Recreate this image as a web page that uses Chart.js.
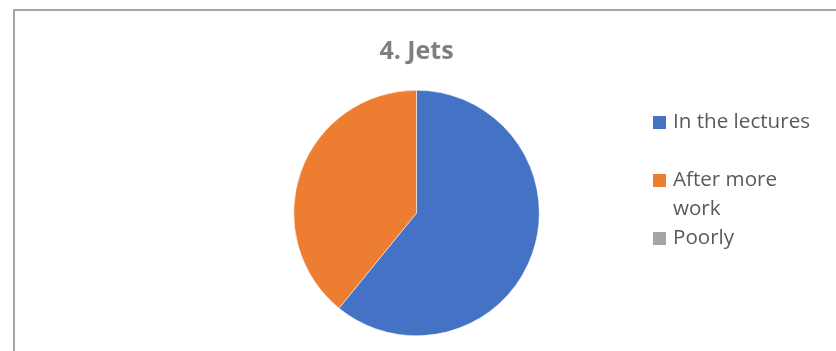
<!DOCTYPE html>
<html>
<head>
<meta charset="utf-8">
<script src="https://cdn.jsdelivr.net/npm/chart.js@4"></script>
<style>
  html, body { margin: 0; padding: 0; background: #fff; }
  #wrap { position: relative; width: 836px; height: 351px; }
  #frame {
    position: absolute; left: 13px; top: 9px; right: -2px; bottom: -2px;
    border-top: 2px solid #a6a6a6; border-left: 2px solid #a6a6a6;
    pointer-events: none;
  }
</style>
</head>
<body>
<div id="wrap">
  <canvas id="pieChart" width="836" height="351"></canvas>
  <div id="frame"></div>
</div>
<script>
// タイトル
const title = '4. Jets';
// カテゴリ（凡例は複数行あり）
const labels = [['In the lectures'], ['After more', 'work'], ['Poorly']];
// 回答数
const values = [14, 9, 0];
// 色
const colors = ['#4472C4', '#ED7D31', '#A5A5A5'];

// 右側の凡例を描く（ラベルの折り返しのため自前で）
const sideLegend = {
    id: 'sideLegend',
    afterDraw(chart) {
        const ctx = chart.ctx;
        const ds = chart.data.datasets[0];
        const boxX = 653, textX = 673, lineH = 29;
        const rows = [122, 180, 238];
        ctx.save();
        ctx.font = '20.6px "Open Sans", "Noto Sans", sans-serif';
        ctx.textBaseline = 'middle';
        chart.data.labels.forEach((lab, i) => {
            const y = rows[i];
            ctx.fillStyle = ds.backgroundColor[i];
            ctx.fillRect(boxX, y - 6, 13, 13);
            ctx.fillStyle = '#595959';
            lab.forEach((t, j) => ctx.fillText(t, textX, y + j * lineH));
        });
        ctx.restore();
    }
};

const ctx = document.getElementById('pieChart').getContext('2d');
new Chart(ctx, {
    type: 'pie',
    data: {
        labels: labels,
        datasets: [{
            data: values,
            backgroundColor: colors,
            borderColor: '#ffffff',
            borderWidth: 0.5
        }]
    },
    options: {
        responsive: false,
        animation: false,
        layout: {
            padding: { left: 293, right: 296, top: 0, bottom: 15 }
        },
        plugins: {
            legend: { display: false },
            tooltip: { enabled: false },
            title: {
                display: true,
                text: title,
                color: '#7f7f7f',
                font: { family: '"Open Sans", "Noto Sans", sans-serif', size: 25, weight: 'bold' },
                padding: { top: 37, bottom: 23 }
            }
        }
    },
    plugins: [sideLegend]
});
</script>
</body>
</html>
